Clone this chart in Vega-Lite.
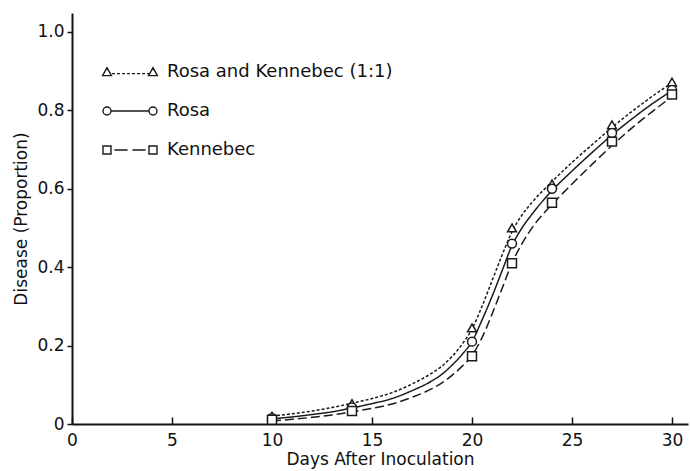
{
  "$schema": "https://vega.github.io/schema/vega-lite/v6.json",
  "width": 616,
  "height": 411,
  "autosize": {"type": "none"},
  "padding": {"left": 72, "top": 13, "right": 2, "bottom": 47},
  "background": "white",
  "config": {
    "view": {"stroke": null},
    "font": "DejaVu Sans",
    "axis": {
      "labelFont": "DejaVu Sans",
      "titleFont": "DejaVu Sans",
      "labelFontSize": 17,
      "titleFontSize": 17,
      "titleFontWeight": "normal",
      "labelColor": "#111",
      "titleColor": "#111",
      "domainColor": "#111",
      "tickColor": "#111",
      "domainWidth": 2,
      "tickWidth": 1.5,
      "grid": false
    }
  },
  "datasets": {
    "obs": [
      {"series": "Rosa and Kennebec (1:1)", "day": 10, "disease": 0.02},
      {"series": "Rosa and Kennebec (1:1)", "day": 14, "disease": 0.052},
      {"series": "Rosa and Kennebec (1:1)", "day": 20, "disease": 0.245},
      {"series": "Rosa and Kennebec (1:1)", "day": 22, "disease": 0.50},
      {"series": "Rosa and Kennebec (1:1)", "day": 24, "disease": 0.612},
      {"series": "Rosa and Kennebec (1:1)", "day": 27, "disease": 0.763},
      {"series": "Rosa and Kennebec (1:1)", "day": 30, "disease": 0.872},
      {"series": "Rosa", "day": 10, "disease": 0.015},
      {"series": "Rosa", "day": 14, "disease": 0.042},
      {"series": "Rosa", "day": 20, "disease": 0.21},
      {"series": "Rosa", "day": 22, "disease": 0.46},
      {"series": "Rosa", "day": 24, "disease": 0.60},
      {"series": "Rosa", "day": 27, "disease": 0.742},
      {"series": "Rosa", "day": 30, "disease": 0.852},
      {"series": "Kennebec", "day": 10, "disease": 0.011},
      {"series": "Kennebec", "day": 14, "disease": 0.033},
      {"series": "Kennebec", "day": 20, "disease": 0.173},
      {"series": "Kennebec", "day": 22, "disease": 0.41},
      {"series": "Kennebec", "day": 24, "disease": 0.564},
      {"series": "Kennebec", "day": 27, "disease": 0.72},
      {"series": "Kennebec", "day": 30, "disease": 0.84}
    ],
    "fit": [
      {"series": "Rosa and Kennebec (1:1)", "day": 10, "disease": 0.02},
      {"series": "Rosa and Kennebec (1:1)", "day": 11, "disease": 0.026},
      {"series": "Rosa and Kennebec (1:1)", "day": 12, "disease": 0.033},
      {"series": "Rosa and Kennebec (1:1)", "day": 13, "disease": 0.042},
      {"series": "Rosa and Kennebec (1:1)", "day": 14, "disease": 0.053},
      {"series": "Rosa and Kennebec (1:1)", "day": 15, "disease": 0.065},
      {"series": "Rosa and Kennebec (1:1)", "day": 16, "disease": 0.08},
      {"series": "Rosa and Kennebec (1:1)", "day": 17, "disease": 0.102},
      {"series": "Rosa and Kennebec (1:1)", "day": 18, "disease": 0.13},
      {"series": "Rosa and Kennebec (1:1)", "day": 18.5, "disease": 0.148},
      {"series": "Rosa and Kennebec (1:1)", "day": 19, "disease": 0.172},
      {"series": "Rosa and Kennebec (1:1)", "day": 19.5, "disease": 0.203},
      {"series": "Rosa and Kennebec (1:1)", "day": 20, "disease": 0.242},
      {"series": "Rosa and Kennebec (1:1)", "day": 20.5, "disease": 0.30},
      {"series": "Rosa and Kennebec (1:1)", "day": 21, "disease": 0.365},
      {"series": "Rosa and Kennebec (1:1)", "day": 21.5, "disease": 0.43},
      {"series": "Rosa and Kennebec (1:1)", "day": 22, "disease": 0.49},
      {"series": "Rosa and Kennebec (1:1)", "day": 22.5, "disease": 0.533},
      {"series": "Rosa and Kennebec (1:1)", "day": 23, "disease": 0.565},
      {"series": "Rosa and Kennebec (1:1)", "day": 24, "disease": 0.618},
      {"series": "Rosa and Kennebec (1:1)", "day": 25, "disease": 0.667},
      {"series": "Rosa and Kennebec (1:1)", "day": 26, "disease": 0.712},
      {"series": "Rosa and Kennebec (1:1)", "day": 27, "disease": 0.756},
      {"series": "Rosa and Kennebec (1:1)", "day": 28, "disease": 0.797},
      {"series": "Rosa and Kennebec (1:1)", "day": 29, "disease": 0.835},
      {"series": "Rosa and Kennebec (1:1)", "day": 30, "disease": 0.87},
      {"series": "Rosa", "day": 10, "disease": 0.013},
      {"series": "Rosa", "day": 11, "disease": 0.018},
      {"series": "Rosa", "day": 12, "disease": 0.024},
      {"series": "Rosa", "day": 13, "disease": 0.031},
      {"series": "Rosa", "day": 14, "disease": 0.041},
      {"series": "Rosa", "day": 15, "disease": 0.052},
      {"series": "Rosa", "day": 16, "disease": 0.065},
      {"series": "Rosa", "day": 17, "disease": 0.085},
      {"series": "Rosa", "day": 18, "disease": 0.11},
      {"series": "Rosa", "day": 18.5, "disease": 0.127},
      {"series": "Rosa", "day": 19, "disease": 0.15},
      {"series": "Rosa", "day": 19.5, "disease": 0.177},
      {"series": "Rosa", "day": 20, "disease": 0.21},
      {"series": "Rosa", "day": 20.5, "disease": 0.265},
      {"series": "Rosa", "day": 21, "disease": 0.325},
      {"series": "Rosa", "day": 21.5, "disease": 0.39},
      {"series": "Rosa", "day": 22, "disease": 0.455},
      {"series": "Rosa", "day": 22.5, "disease": 0.50},
      {"series": "Rosa", "day": 23, "disease": 0.535},
      {"series": "Rosa", "day": 24, "disease": 0.595},
      {"series": "Rosa", "day": 25, "disease": 0.645},
      {"series": "Rosa", "day": 26, "disease": 0.692},
      {"series": "Rosa", "day": 27, "disease": 0.737},
      {"series": "Rosa", "day": 28, "disease": 0.778},
      {"series": "Rosa", "day": 29, "disease": 0.816},
      {"series": "Rosa", "day": 30, "disease": 0.85},
      {"series": "Kennebec", "day": 10, "disease": 0.008},
      {"series": "Kennebec", "day": 11, "disease": 0.012},
      {"series": "Kennebec", "day": 12, "disease": 0.017},
      {"series": "Kennebec", "day": 13, "disease": 0.023},
      {"series": "Kennebec", "day": 14, "disease": 0.031},
      {"series": "Kennebec", "day": 15, "disease": 0.04},
      {"series": "Kennebec", "day": 16, "disease": 0.051},
      {"series": "Kennebec", "day": 17, "disease": 0.068},
      {"series": "Kennebec", "day": 18, "disease": 0.09},
      {"series": "Kennebec", "day": 18.5, "disease": 0.105},
      {"series": "Kennebec", "day": 19, "disease": 0.124},
      {"series": "Kennebec", "day": 19.5, "disease": 0.147},
      {"series": "Kennebec", "day": 20, "disease": 0.175},
      {"series": "Kennebec", "day": 20.5, "disease": 0.22},
      {"series": "Kennebec", "day": 21, "disease": 0.28},
      {"series": "Kennebec", "day": 21.5, "disease": 0.345},
      {"series": "Kennebec", "day": 22, "disease": 0.41},
      {"series": "Kennebec", "day": 22.5, "disease": 0.46},
      {"series": "Kennebec", "day": 23, "disease": 0.50},
      {"series": "Kennebec", "day": 24, "disease": 0.56},
      {"series": "Kennebec", "day": 25, "disease": 0.612},
      {"series": "Kennebec", "day": 26, "disease": 0.662},
      {"series": "Kennebec", "day": 27, "disease": 0.71},
      {"series": "Kennebec", "day": 28, "disease": 0.755},
      {"series": "Kennebec", "day": 29, "disease": 0.796},
      {"series": "Kennebec", "day": 30, "disease": 0.835}
    ]
  },
  "encoding": {
    "x": {
      "field": "day", "type": "quantitative",
      "scale": {"domain": [0, 30.8], "nice": false, "zero": false},
      "axis": {
        "title": "Days After Inoculation",
        "values": [0, 5, 10, 15, 20, 25, 30],
        "tickSize": -7,
        "labelPadding": 15,
        "titlePadding": 3,
        "labelFlush": false,
        "labelOverlap": false
      }
    },
    "y": {
      "field": "disease", "type": "quantitative",
      "scale": {"domain": [0, 1.048], "nice": false},
      "axis": {
        "title": "Disease (Proportion)",
        "values": [0, 0.2, 0.4, 0.6, 0.8, 1.0],
        "labelExpr": "datum.value == 0 ? '0' : format(datum.value, '.1f')",
        "tickSize": 5,
        "labelPadding": 3,
        "titlePadding": 6,
        "labelFlush": false,
        "labelOverlap": false
      }
    }
  },
  "layer": [
    {
      "data": {"name": "fit"},
      "mark": {"type": "line", "interpolate": "monotone", "color": "#1a1a1a", "strokeWidth": 1.5},
      "encoding": {
        "detail": {"field": "series"},
        "strokeDash": {
          "field": "series", "type": "nominal",
          "scale": {"domain": ["Rosa and Kennebec (1:1)", "Rosa", "Kennebec"], "range": [[3, 2], [1, 0], [9, 4]]},
          "legend": null
        }
      }
    },
    {
      "data": {"name": "obs"},
      "mark": {"type": "point", "filled": true, "fill": "white", "stroke": "#1a1a1a", "strokeWidth": 1.5, "size": 80, "opacity": 1},
      "encoding": {
        "shape": {
          "field": "series", "type": "nominal",
          "scale": {"domain": ["Rosa and Kennebec (1:1)", "Rosa", "Kennebec"], "range": ["triangle-up", "circle", "square"]},
          "legend": null
        }
      }
    },
    {
      "data": {"name": "obs"},
      "mark": {"type": "point", "filled": false, "stroke": "#1a1a1a", "strokeWidth": 1.3, "size": 64, "opacity": 0},
      "encoding": {
        "shape": {
          "field": "series", "type": "nominal",
          "scale": {
            "domain": ["Rosa and Kennebec (1:1)", "Rosa", "Kennebec"],
            "range": [
              "M-6.85,0.9 L-5.75,-1.1 L-4.65,0.9 Z M-4.5,0.4 L-3.75,0.4 M-3.25,0.4 L-2.5,0.4 M-2,0.4 L-1.25,0.4 M-0.75,0.4 L0,0.4 M0.5,0.4 L1.25,0.4 M1.75,0.4 L2.5,0.4 M3,0.4 L3.75,0.4 M4.25,0.4 L4.75,0.4 M4.65,0.9 L5.75,-1.1 L6.85,0.9 Z",
              "M-6.75,0 A1,1 0 1,1 -4.75,0 A1,1 0 1,1 -6.75,0 Z M-4.75,0 L4.75,0 M4.75,0 A1,1 0 1,1 6.75,0 A1,1 0 1,1 4.75,0 Z",
              "M-6.75,-1 L-4.75,-1 L-4.75,1 L-6.75,1 Z M-3.9,0 L-0.6,0 M0.6,0 L3.9,0 M4.75,-1 L6.75,-1 L6.75,1 L4.75,1 Z"
            ]
          },
          "legend": {
            "title": null,
            "orient": "none",
            "legendX": 49,
            "legendY": 50,
            "padding": 0,
            "symbolSize": 64,
            "symbolStrokeWidth": 1.4,
            "symbolStrokeColor": "#1a1a1a",
            "symbolFillColor": "transparent",
            "symbolOpacity": 1,
            "labelFont": "DejaVu Sans",
            "labelFontSize": 18,
            "labelColor": "#111",
            "labelOffset": 28,
            "rowPadding": 21,
            "labelLimit": 400
          }
        }
      }
    },
    {
      "data": {"values": [{}]},
      "mark": {"type": "rule", "color": "#111", "strokeWidth": 2},
      "encoding": {
        "x": {"datum": 30.8, "type": "quantitative"},
        "y": {"datum": 0, "type": "quantitative"},
        "y2": {"datum": 1.048}
      }
    },
    {
      "data": {"values": [{}]},
      "mark": {"type": "rule", "color": "#111", "strokeWidth": 2},
      "encoding": {
        "y": {"datum": 1.048, "type": "quantitative"},
        "x": {"datum": 0, "type": "quantitative"},
        "x2": {"datum": 30.8}
      }
    },
    {
      "data": {"values": [{"v": 0.2}, {"v": 0.4}, {"v": 0.6}, {"v": 0.8}, {"v": 1.0}]},
      "mark": {"type": "tick", "orient": "horizontal", "color": "#111", "thickness": 1.5, "size": 10},
      "encoding": {
        "x": {"datum": 30.8, "type": "quantitative"},
        "y": {"field": "v", "type": "quantitative"}
      }
    }
  ],
  "resolve": {"scale": {"shape": "independent"}}
}
